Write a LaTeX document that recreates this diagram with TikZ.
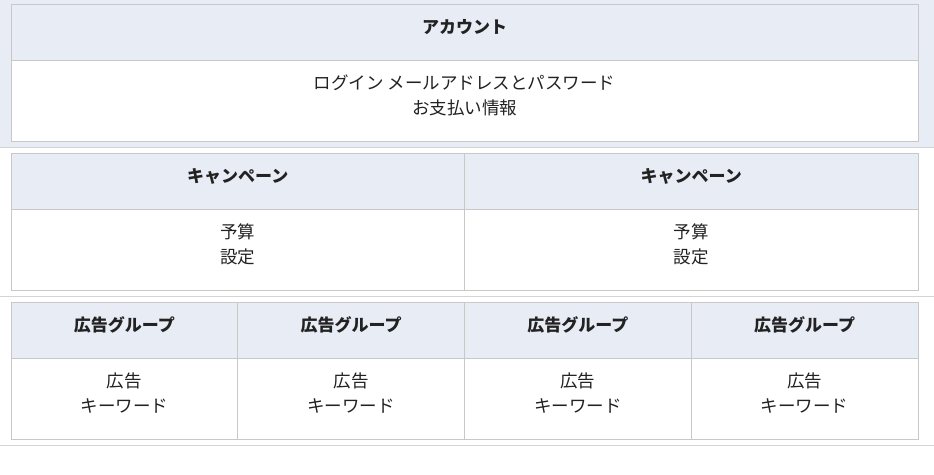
\documentclass[tikz,border=0pt]{standalone}
\usepackage{fontspec}
\newfontfamily\jpfont{Noto Sans CJK JP}
\usepackage{tikz}
\usetikzlibrary{positioning}
\definecolor{headbg}{HTML}{E8ECF5}
\definecolor{cellline}{HTML}{C8C8C8}
\definecolor{sepline}{HTML}{D4D4D4}
\definecolor{inktext}{HTML}{222222}
\tikzset{
  cell/.style={draw=cellline, line width=1pt, inner sep=0pt, outer sep=0pt, align=center,
    text depth=12pt, text=inktext},
  headcell/.style={cell, fill=headbg, minimum height=56pt, text height=15pt,
    font=\jpfont\bfseries\fontsize{17}{25}\selectfont},
  bodycell/.style={cell, fill=white, minimum height=81pt, text height=40pt,
    font=\jpfont\fontsize{17.5}{25}\selectfont},
  sep/.style={draw=sepline, line width=1pt}
}
\begin{document}
\begin{tikzpicture}[x=1pt, y=-1pt, node distance=0pt]
\useasboundingbox[fill=white] (0,0) rectangle (934,474);
\fill[headbg] (0,0) rectangle (934,147);
\draw[sep] (0,147) -- (934,147);
\draw[sep] (0,296) -- (934,296);
\draw[sep] (0,445) -- (934,445);

\node[headcell, minimum width=907pt, anchor=north west] (acct) at (11,4) {アカウント};
\node[bodycell, minimum width=907pt, below=of acct] (acctbody) {ログイン メールアドレスとパスワード\\お支払い情報};

\node[headcell, minimum width=453.5pt, anchor=north west] (camp1) at (11,153) {キャンペーン};
\node[headcell, minimum width=453.5pt, right=of camp1] (camp2) {キャンペーン};
\node[bodycell, minimum width=453.5pt, below=of camp1] (camp1body) {予算\\設定};
\node[bodycell, minimum width=453.5pt, below=of camp2] (camp2body) {予算\\設定};

\node[headcell, minimum width=226.75pt, anchor=north west] (grp1) at (11,302) {広告グループ};
\node[headcell, minimum width=226.75pt, right=of grp1] (grp2) {広告グループ};
\node[headcell, minimum width=226.75pt, right=of grp2] (grp3) {広告グループ};
\node[headcell, minimum width=226.75pt, right=of grp3] (grp4) {広告グループ};
\node[bodycell, minimum width=226.75pt, below=of grp1] (grp1body) {広告\\キーワード};
\node[bodycell, minimum width=226.75pt, below=of grp2] (grp2body) {広告\\キーワード};
\node[bodycell, minimum width=226.75pt, below=of grp3] (grp3body) {広告\\キーワード};
\node[bodycell, minimum width=226.75pt, below=of grp4] (grp4body) {広告\\キーワード};
\end{tikzpicture}
\end{document}
